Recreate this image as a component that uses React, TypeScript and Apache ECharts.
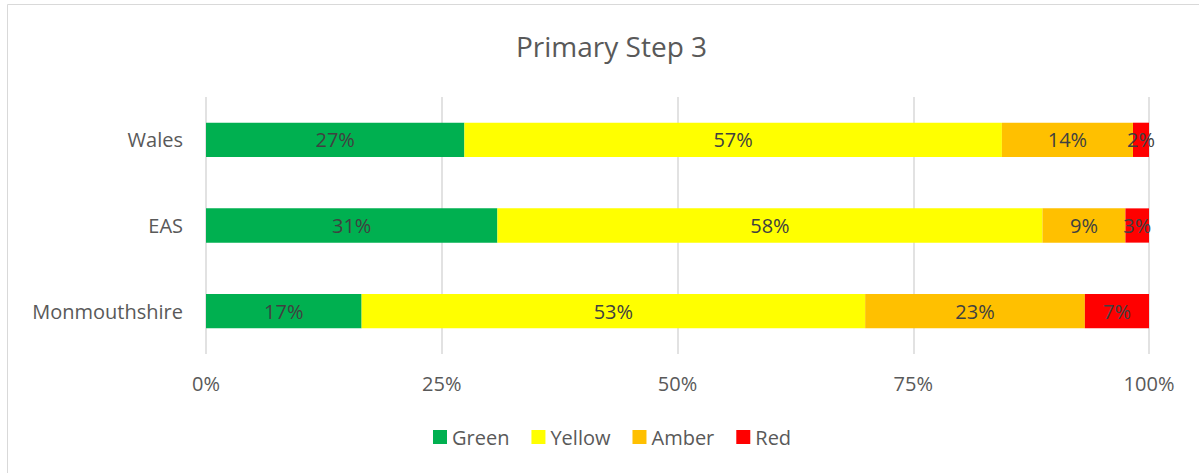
import React, { useEffect, useRef } from "react";
import * as echarts from "echarts";

const categories = ["Wales", "EAS", "Monmouthshire"];
const seriesNames = ["Green", "Yellow", "Amber", "Red"];
const colors = ["#00B050", "#FFFF00", "#FFC000", "#FF0000"];
const green = [27.4, 30.9, 16.5];
const yellow = [57.0, 57.8, 53.4];
const amber = [13.9, 8.8, 23.3];
const red = [1.7, 2.5, 6.8];
const xTicks = [0, 25, 50, 75, 100];

const FONT = "'Open Sans', sans-serif";

export default function App() {
  const ref = useRef<HTMLDivElement>(null);
  useEffect(() => {
    if (!ref.current) return;
    const chart = echarts.init(ref.current, null, { renderer: "svg" });
    const values = [green, yellow, amber, red];
    chart.setOption({
      animation: false,
      backgroundColor: "#ffffff",
      title: {
        text: "Primary Step 3",
        left: 511,
        top: 27,
        textStyle: { fontFamily: FONT, fontSize: 28, fontWeight: "normal", color: "#595959" },
      },
      graphic: [
        {
          type: "rect",
          shape: { x: 7.5, y: 4.5, width: 1200, height: 480 },
          style: { fill: "none", stroke: "#d9d9d9", lineWidth: 1 },
          silent: true,
        },
      ],
      legend: {
        data: seriesNames,
        top: 422,
        left: 428,
        icon: "rect",
        itemWidth: 14,
        itemHeight: 14,
        itemGap: 22,
        textStyle: { fontFamily: FONT, fontSize: 20, color: "#595959" },
      },
      grid: { left: 206, right: 50, top: 97, bottom: 119, containLabel: false },
      xAxis: {
        type: "value",
        min: 0,
        max: 100,
        interval: 25,
        axisLine: { show: false },
        axisTick: { show: false },
        splitLine: { show: true, lineStyle: { color: "#d9d9d9", width: 1.5 } },
        axisLabel: {
          margin: 19,
          fontFamily: FONT,
          fontSize: 20,
          color: "#595959",
          formatter: (v: number) => (xTicks.includes(v) ? v + "%" : ""),
        },
      },
      yAxis: {
        type: "category",
        data: categories,
        inverse: true,
        axisLine: { show: false },
        axisTick: { show: false },
        axisLabel: { margin: 23, fontFamily: FONT, fontSize: 20, color: "#595959" },
      },
      series: seriesNames.map((name, i) => ({
        name,
        type: "bar",
        stack: "total",
        barWidth: "40%",
        data: values[i],
        itemStyle: { color: colors[i] },
        label: {
          show: true,
          position: "inside",
          fontFamily: FONT,
          fontSize: 20,
          color: "#404040",
          formatter: (p: any) => Math.round(p.value) + "%",
        },
      })),
    });
    return () => chart.dispose();
  }, []);
  return (
    <div
      ref={ref}
      style={{ position: "fixed", left: 0, top: 0, width: 1199, height: 473 }}
    />
  );
}
